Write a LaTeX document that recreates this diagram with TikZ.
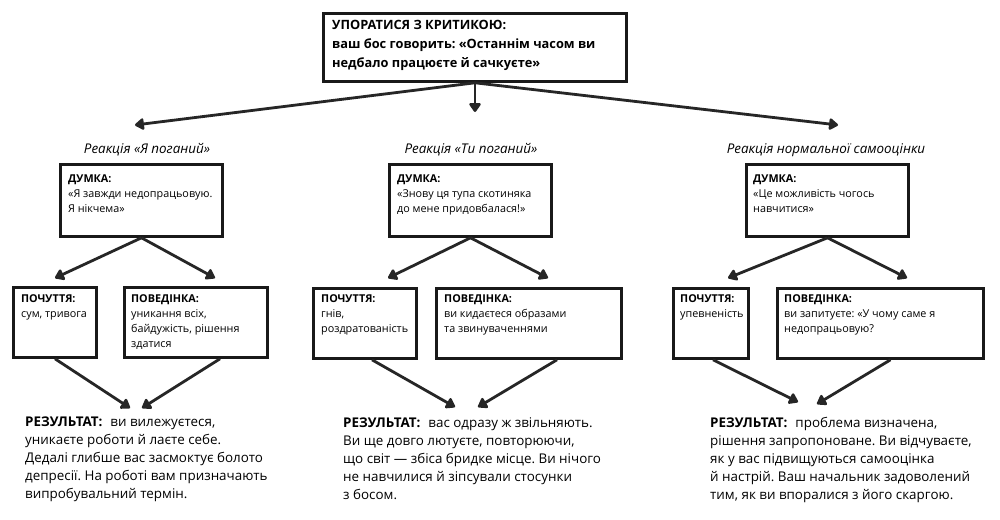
\documentclass[tikz,border=0pt]{standalone}
\usepackage{fontspec}
\setmainfont{Open Sans}
\usetikzlibrary{arrows.meta}
\frenchspacing
\tikzset{
  frame/.style={draw=black!90, line width=2.6pt, inner sep=0pt},
  txt/.style={anchor=north west, inner sep=0pt, align=left},
  boxfont/.style={font=\fontsize{10.8}{15}\selectfont},
  resfont/.style={font=\fontsize{13.4}{18}\selectfont},
  reaction/.style={anchor=base, inner sep=0pt, font=\fontsize{13.4}{15}\selectfont\itshape},
  arrow/.style={line width=2.8pt, draw=black!85, -{Triangle[round,length=10pt,width=13pt]}}
}
\begin{document}
\begin{tikzpicture}[x=1pt,y=-1pt]
 \useasboundingbox[fill=white] (0,0) rectangle (1000,519);
 % top box
 \node[frame, minimum width=303pt, minimum height=68pt] (crit) at (475,47.5) {};
 \node[txt, font=\fontsize{12.8}{19}\selectfont\bfseries] (crittxt) at (332,20)
  {УПОРАТИСЯ З КРИТИКОЮ:\\ваш бос говорить: «Останнім часом ви\\недбало працюєте й сачкуєте»};
 % three reactions
 \node[reaction] (reactA) at (147,153) {Реакція «Я поганий»};
 \node[reaction] (reactB) at (471,153) {Реакція «Ти поганий»};
 \node[reaction] (reactC) at (826,153) {Реакція нормальної самооцінки};
 \coordinate (tipA) at (135,125);
 \coordinate (tipB) at (475,112);
 \coordinate (tipC) at (838,125);
 \draw[arrow] (crit.south) -- (tipA);
 \draw[arrow] (crit.south) -- (tipB);
 \draw[arrow] (crit.south) -- (tipC);
 % thoughts
 \node[frame, minimum width=162pt, minimum height=72pt] (thinkA) at (141.5,200.5) {};
 \node[frame, minimum width=162pt, minimum height=72pt] (thinkB) at (470.5,200.5) {};
 \node[frame, minimum width=162pt, minimum height=72pt] (thinkC) at (827.5,200.5) {};
 \node[txt, boxfont] (thinkAtxt) at (68,175) {\textbf{ДУМКА:}\\«Я завжди недопрацьовую.\\Я нікчема»};
 \node[txt, boxfont] (thinkBtxt) at (397,175) {\textbf{ДУМКА:}\\«Знову ця тупа скотиняка\\до мене придовбалася!»};
 \node[txt, boxfont] (thinkCtxt) at (753,175) {\textbf{ДУМКА:}\\«Це можливість чогось\\навчитися»};
 % feelings and behaviour
 \node[frame, minimum width=83pt, minimum height=70pt] (feelA) at (55,322.5) {};
 \node[frame, minimum width=143pt, minimum height=70pt] (actA) at (196,322.5) {};
 \node[frame, minimum width=103pt, minimum height=70pt] (feelB) at (365,323.5) {};
 \node[frame, minimum width=185pt, minimum height=70pt] (actB) at (529,323.5) {};
 \node[frame, minimum width=75pt, minimum height=70pt] (feelC) at (711,323.5) {};
 \node[frame, minimum width=206pt, minimum height=70pt] (actC) at (880.5,323.5) {};
 \node[txt, boxfont] (feelAtxt) at (21,294) {\textbf{ПОЧУТТЯ:}\\сум, тривога};
 \node[txt, boxfont] (actAtxt) at (131,294) {\textbf{ПОВЕДІНКА:}\\уникання всіх,\\байдужість, рішення\\здатися};
 \node[txt, boxfont] (feelBtxt) at (321,294) {\textbf{ПОЧУТТЯ:}\\гнів,\\роздратованість};
 \node[txt, boxfont] (actBtxt) at (444,294) {\textbf{ПОВЕДІНКА:}\\ви кидаєтеся образами\\та звинуваченнями};
 \node[txt, boxfont] (feelCtxt) at (680,294) {\textbf{ПОЧУТТЯ:}\\упевненість};
 \node[txt, boxfont] (actCtxt) at (784,294) {\textbf{ПОВЕДІНКА:}\\ви запитуєте: «У чому саме я\\недопрацьовую?};
 \coordinate (feelAtip) at (55,278);
 \coordinate (actAtip) at (215,278);
 \coordinate (feelBtip) at (388,278);
 \coordinate (actBtip) at (548,278);
 \coordinate (feelCtip) at (728,278);
 \coordinate (actCtip) at (907,278);
 \draw[arrow] (thinkA.south) -- (feelAtip);
 \draw[arrow] (thinkA.south) -- (actAtip);
 \draw[arrow] (thinkB.south) -- (feelBtip);
 \draw[arrow] (thinkB.south) -- (actBtip);
 \draw[arrow] (thinkC.south) -- (feelCtip);
 \draw[arrow] (thinkC.south) -- (actCtip);
 % results
 \node[txt, resfont] (resA) at (25,417) {\textbf{РЕЗУЛЬТАТ:}\hspace{8pt}ви вилежуєтеся,\\уникаєте роботи й лаєте себе.\\Дедалі глибше вас засмоктує болото\\депресії. На роботі вам призначають\\випробувальний термін.};
 \node[txt, resfont] (resB) at (343,417) {\textbf{РЕЗУЛЬТАТ:}\hspace{8pt}вас одразу ж звільняють.\\Ви ще довго лютуєте, повторюючи,\\що світ — збіса бридке місце. Ви нічого\\не навчилися й зіпсували стосунки\\з босом.};
 \node[txt, resfont] (resC) at (710,417) {\textbf{РЕЗУЛЬТАТ:}\hspace{8pt}проблема визначена,\\рішення запропоноване. Ви відчуваєте,\\як у вас підвищуються самооцінка\\й настрій. Ваш начальник задоволений\\тим, як ви впоралися з його скаргою.};
 \coordinate (resAl) at (130,408);
 \coordinate (resAr) at (142,408);
 \coordinate (resBl) at (455,407);
 \coordinate (resBr) at (478,407);
 \coordinate (resCl) at (798,402);
 \coordinate (resCr) at (817,404);
 \draw[arrow] (feelA.south) -- (resAl);
 \draw[arrow] ([xshift=24pt]actA.south) -- (resAr);
 \draw[arrow] ([xshift=7pt]feelB.south) -- (resBl);
 \draw[arrow] ([xshift=28pt]actB.south) -- (resBr);
 \draw[arrow] ([xshift=2pt]feelC.south) -- (resCl);
 \draw[arrow] ([xshift=10pt]actC.south) -- (resCr);
\end{tikzpicture}
\end{document}
